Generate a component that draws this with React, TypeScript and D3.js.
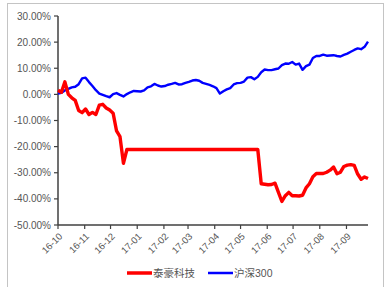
import React from "react";
import * as d3 from "d3";

// 4-day sampling from 2016-10-01, values in %
const startDate = new Date(2016, 9, 1);
const stepDays = 4;

const hs300 = [
  0.3, 0.6, 1.5, 2.1, 2.7, 2.9, 3.9, 6.1, 6.4, 4.7,
  3.2, 1.6, 0.3, -0.2, -0.7, -1.1, 0.1, 0.5, -0.2, -0.8,
  0.1, 0.8, 1.3, 1.2, 1.1, 1.5, 2.7, 3.1, 4.0, 3.4,
  3.0, 3.2, 3.7, 4.0, 4.4, 3.8, 3.9, 4.4, 4.8, 5.3,
  5.5, 5.2, 4.4, 4.0, 3.6, 3.1, 2.4, 0.3, 1.2, 1.9,
  2.4, 3.8, 4.3, 4.4, 4.9, 6.4, 6.6, 5.8, 6.7, 8.5,
  9.5, 9.3, 9.3, 9.6, 9.9, 11.2, 11.8, 11.7, 12.4, 11.4,
  11.8, 9.4, 10.8, 11.4, 13.9, 14.7, 14.7, 15.2, 14.8, 14.9,
  15.0, 14.7, 14.5, 15.1, 15.6, 16.3, 17.0, 17.6, 17.3, 18.2,
  20.2,
];

const taihao = [
  1.6, 0.8, 4.8, 0.0, -1.3, -2.3, -6.2, -7.0, -5.6, -7.7,
  -6.9, -7.7, -4.1, -3.8, -5.2, -6.0, -7.2, -14.0, -16.2, -26.4,
  -21.1, -21.1, -21.1, -21.1, -21.1, -21.1, -21.1, -21.1, -21.1, -21.1,
  -21.1, -21.1, -21.1, -21.1, -21.1, -21.1, -21.1, -21.1, -21.1, -21.1,
  -21.1, -21.1, -21.1, -21.1, -21.1, -21.1, -21.1, -21.1, -21.1, -21.1,
  -21.1, -21.1, -21.1, -21.1, -21.1, -21.1, -21.1, -21.1, -21.1, -34.2,
  -34.4, -34.6, -34.5, -34.0, -37.5, -41.0, -38.8, -37.5, -38.8, -38.8,
  -38.9, -38.6, -35.8, -34.2, -31.5, -30.3, -30.3, -30.3, -29.8, -29.0,
  -27.8, -30.4, -29.8, -27.6, -27.1, -26.9, -27.2, -30.5, -32.5, -31.6,
  -32.2,
];

const yTicks = [30, 20, 10, 0, -10, -20, -30, -40, -50];
const seriesNames = ["泰豪科技", "沪深300"];
const seriesColors = ["#ff0000", "#0000ff"];

const W = 386;
const H = 287;
const axisColor = "#404040";
const textColor = "#555555";
const font = "'Liberation Sans', Arial, 'Noto Sans CJK SC', sans-serif";

export default function App() {
  const dates = hs300.map((_, i) => d3.timeDay.offset(startDate, i * stepDays));

  const x = d3.scaleTime()
    .domain([startDate, dates[dates.length - 1]])
    .range([58, 368]);
  const y = d3.scaleLinear().domain([-50, 30]).range([225, 16]);

  const monthTicks = d3.timeMonth.range(new Date(2016, 9, 1), new Date(2017, 9, 1));
  const fmt = d3.timeFormat("%y-%m");

  const line = d3.line<number>()
    .x((_, i) => x(dates[i]))
    .y(d => y(d));

  return (
    <svg width={W} height={H} style={{ position: "absolute", left: 0, top: 0, background: "#fff" }}>
      <rect x={7.5} y={3.5} width={376} height={310} fill="#fff" stroke="#c4c4c4" strokeWidth={1} />

      {/* y axis */}
      <line x1={58} x2={58} y1={y(30)} y2={y(-50)} stroke={axisColor} strokeWidth={1.5} />
      {yTicks.map(t => (
        <g key={t}>
          <line x1={54} x2={58} y1={y(t)} y2={y(t)} stroke={axisColor} strokeWidth={1.2} />
          <text x={51} y={y(t)} dy="0.35em" textAnchor="end" fontSize={10} fontFamily={font} fill={textColor}>
            {t.toFixed(2)}%
          </text>
        </g>
      ))}

      {/* x axis */}
      <line x1={58} x2={368} y1={225} y2={225} stroke={axisColor} strokeWidth={1.5} />
      {monthTicks.map(d => (
        <g key={+d}>
          <line x1={x(d)} x2={x(d)} y1={225} y2={229} stroke={axisColor} strokeWidth={1.2} />
          <text
            transform={`translate(${x(d) + 5},237) rotate(-45)`}
            textAnchor="end"
            fontSize={9.5}
            fontFamily={font}
            fill={textColor}
          >
            {fmt(d)}
          </text>
        </g>
      ))}

      <path d={line(hs300) || ""} fill="none" stroke={seriesColors[1]} strokeWidth={2.4} strokeLinejoin="round" />
      <path d={line(taihao) || ""} fill="none" stroke={seriesColors[0]} strokeWidth={3.4} strokeLinejoin="round" />

      {/* legend */}
      <line x1={127} x2={152} y1={273} y2={273} stroke={seriesColors[0]} strokeWidth={3.5} />
      <text x={153} y={273} dy="0.35em" fontSize={10.5} fontFamily={font} fill={textColor}>{seriesNames[0]}</text>
      <line x1={208} x2={233} y1={273} y2={273} stroke={seriesColors[1]} strokeWidth={2.5} />
      <text x={234} y={273} dy="0.35em" fontSize={10.5} fontFamily={font} fill={textColor}>{seriesNames[1]}</text>
    </svg>
  );
}
